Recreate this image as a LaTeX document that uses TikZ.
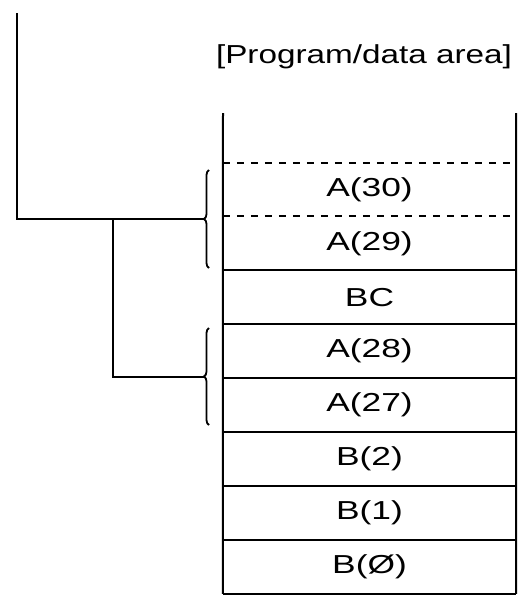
\documentclass[tikz,border=0pt]{standalone}
\usepackage{fontspec}
\setmainfont{Liberation Sans}
\usetikzlibrary{decorations.pathreplacing,positioning}
\begin{document}
\begin{tikzpicture}[x=1pt,y=-1pt,
  cell/.style={minimum width=293pt,minimum height=53.5pt,inner sep=0pt,font=\fontsize{26}{28}\selectfont},
  ln/.style={line width=2pt},
  dl/.style={line width=2pt,dash pattern=on 7pt off 7pt},
  br/.style={line width=1.8pt,decorate,decoration={brace,amplitude=5pt,mirror}}]
\useasboundingbox (0,0) rectangle (528,598);
\node[font=\fontsize{26}{28}\selectfont] (title) at (364,57) {\scalebox{1.28}[1]{[Program/data area]}};
\node[cell] (r1) at (369.5,189.5) {\scalebox{1.36}[1]{A(30)}};
\node[cell,below=0pt of r1] (r2) {\scalebox{1.36}[1]{A(29)}};
\node[cell,below=0pt of r2] (r3) {\scalebox{1.36}[1]{BC}};
\node[cell,below=0pt of r3] (r4) {\scalebox{1.36}[1]{A(28)}};
\node[cell,below=0pt of r4] (r5) {\scalebox{1.36}[1]{A(27)}};
\node[cell,below=0pt of r5] (r6) {\scalebox{1.36}[1]{B(2)}};
\node[cell,below=0pt of r6] (r7) {\scalebox{1.36}[1]{B(1)}};
\node[cell,below=0pt of r7] (r8) {\scalebox{1.36}[1]{B(Ø)}};
\coordinate (lt) at (223,113);
\coordinate (rt) at (516,113);
% walls
\draw[ln] (lt) -- (r8.south west);
\draw[ln] (rt) -- (r8.south east);
% separators
\draw[dl] (r1.north west) -- (r1.north east);
\draw[dl] (r2.north west) -- (r2.north east);
\draw[ln] (r3.north west) -- (r3.north east);
\draw[ln] (r4.north west) -- (r4.north east);
\draw[ln] (r5.north west) -- (r5.north east);
\draw[ln] (r6.north west) -- (r6.north east);
\draw[ln] (r7.north west) -- (r7.north east);
\draw[ln] (r8.north west) -- (r8.north east);
\draw[ln] (r8.south west) -- (r8.south east);
% braces
\coordinate (b1s) at (209,170);
\coordinate (b1e) at (209,268);
\coordinate (b2s) at (209,328);
\coordinate (b2e) at (209,425);
\draw[br] (b1s) -- (b1e) coordinate[midway,xshift=-5pt] (t1);
\draw[br] (b2s) -- (b2e) coordinate[midway,xshift=-5pt] (t2);
% connectors
\coordinate (top) at (17,13);
\coordinate (j) at (113,220);
\draw[ln] (top) |- (t1);
\draw[ln] (j) |- (t2);
\end{tikzpicture}
\end{document}
